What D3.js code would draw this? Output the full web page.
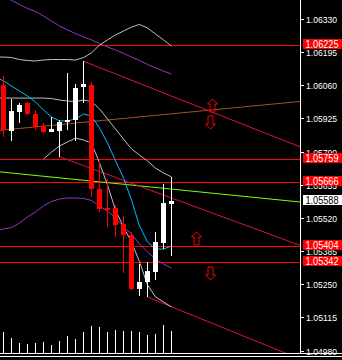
<!DOCTYPE html>
<html>
<head>
<meta charset="utf-8">
<script src="https://cdn.jsdelivr.net/npm/d3@7"></script>
<style>
  body { margin: 0; background: #000; }
  svg { display: block; }
</style>
</head>
<body>
<div id="chart"></div>
<script>
// candles
const opens  = [1.06061, 1.05875, 1.05953, 1.05987, 1.05942, 1.05896, 1.05871, 1.05874, 1.05911, 1.05919, 1.06050, 1.06061, 1.05638, 1.05560, 1.05562, 1.05495, 1.05450, 1.05231, 1.05259, 1.05300, 1.05418, 1.05575];
const highs  = [1.06099, 1.06003, 1.05989, 1.05992, 1.05959, 1.05906, 1.05932, 1.05919, 1.06111, 1.06065, 1.06159, 1.06073, 1.05752, 1.05678, 1.05573, 1.05528, 1.05463, 1.05332, 1.05340, 1.05463, 1.05658, 1.05687];
const lows   = [1.05849, 1.05834, 1.05905, 1.05939, 1.05878, 1.05866, 1.05870, 1.05769, 1.05878, 1.05834, 1.05987, 1.05605, 1.05544, 1.05483, 1.05441, 1.05296, 1.05226, 1.05202, 1.05198, 1.05267, 1.05393, 1.05365];
const closes = [1.05878, 1.05957, 1.05980, 1.05942, 1.05891, 1.05871, 1.05882, 1.05912, 1.05919, 1.06050, 1.06064, 1.05636, 1.05556, 1.05552, 1.05494, 1.05450, 1.05231, 1.05259, 1.05304, 1.05422, 1.05581, 1.05588];
const volumes = [627, 445, 294, 264, 294, 324, 233, 355, 506, 415, 627, 809, 779, 627, 688, 658, 658, 627, 536, 567, 839, 658];

// indicators start one bar before the first visible candle (null = not drawn)
const maFast   = [1.06094, 1.06078, 1.06057, 1.06037, 1.06016, 1.05992, 1.05959, 1.05931, 1.05915, 1.05915, 1.05923, 1.05943, 1.05935, 1.05886, 1.05825, 1.05752, 1.05683, 1.05593, 1.05487, 1.05422, 1.05393, 1.05393, 1.05406];
const bbUpper  = [1.06175, 1.06175, 1.06173, 1.06165, 1.06161, 1.06159, 1.06163, 1.06165, 1.06165, 1.06165, 1.06163, 1.06173, 1.06192, 1.06224, 1.06245, 1.06265, 1.06281, 1.06297, 1.06308, 1.06293, 1.06269, 1.06245, 1.06220];
const bbMiddle = [1.06008, 1.06008, 1.06008, 1.06008, 1.06008, 1.06008, 1.06008, 1.06006, 1.06000, 1.05996, 1.05994, 1.06000, 1.05994, 1.05964, 1.05923, 1.05882, 1.05841, 1.05801, 1.05776, 1.05752, 1.05723, 1.05703, 1.05687];
const bbLower  = [null, null, null, null, null, null, 1.05760, 1.05788, 1.05813, 1.05829, 1.05845, 1.05837, 1.05825, 1.05744, 1.05654, 1.05552, 1.05483, 1.05422, 1.05341, 1.05247, 1.05198, 1.05178, 1.05157];
const envUpper = [1.06432, 1.06420, 1.06406, 1.06389, 1.06373, 1.06361, 1.06342, 1.06322, 1.06302, 1.06285, 1.06271, 1.06257, 1.06245, 1.06230, 1.06216, 1.06204, 1.06190, 1.06175, 1.06161, 1.06145, 1.06131, 1.06118, 1.06106];
const envLower = [1.05467, 1.05475, 1.05481, 1.05499, 1.05524, 1.05544, 1.05569, 1.05587, 1.05597, 1.05601, 1.05601, 1.05599, 1.05591, 1.05569, 1.05548, 1.05520, 1.05483, 1.05455, 1.05414, 1.05381, 1.05353, 1.05332, 1.05316];

const levels = [1.06225, 1.05759, 1.05666, 1.05404, 1.05342];
const bid = 1.05588;
const tickValues = [1.06330, 1.06195, 1.06060, 1.05925, 1.05790, 1.05655, 1.05520, 1.05385, 1.05250, 1.05115, 1.04980];

// trend lines: [bar1, price1, bar2, price2, colour, extend left too]
const trends = [
  [0, 1.05878, 37, 1.05994, "#a0522d", true],
  [0, 1.05706, 37, 1.05585, "#7fff00", true],
  [10, 1.06158, 37, 1.05810, "#dc143c", false],
  [7, 1.05769, 37, 1.05409, "#dc143c", false],
  [18, 1.05198, 37, 1.04946, "#dc143c", false]
];
const arrows = [
  [26, 1.05978, "up"],
  [25.75, 1.05909, "down"],
  [24, 1.05440, "up"],
  [25.75, 1.05296, "down"]
];

const W = 342, H = 360;
const axisX = 300, bottomY = 353;

const svg = d3.select("#chart").append("svg")
  .attr("width", W)
  .attr("height", H)
  .style("background", "#000");

svg.append("clipPath").attr("id", "plot")
  .append("rect").attr("x", 0).attr("y", 0).attr("width", axisX).attr("height", bottomY);

const x = d3.scaleLinear().domain([0, 37]).range([3.5, 299.5]);
const y = d3.scaleLinear().domain([1.06330, 1.04980]).range([19, 350.5]);
const vy = d3.scaleLinear().domain([0, 1000]).range([bottomY, 320]);

const plot = svg.append("g").attr("clip-path", "url(#plot)");

// horizontal levels
plot.selectAll("line.level")
  .data(levels)
  .enter().append("line")
  .attr("class", "level")
  .attr("x1", 0).attr("x2", axisX)
  .attr("y1", d => Math.round(y(d)) + 0.5)
  .attr("y2", d => Math.round(y(d)) + 0.5)
  .attr("stroke", "#ff0000")
  .attr("stroke-width", 1);

// trend lines, run out to the plot edge
trends.forEach(t => {
  const slope = (t[3] - t[1]) / (t[2] - t[0]);
  const b0 = t[5] ? x.invert(0) : t[0];
  const b1 = x.invert(axisX);
  plot.append("line")
    .attr("x1", x(b0)).attr("y1", y(t[1] + slope * (b0 - t[0])))
    .attr("x2", x(b1)).attr("y2", y(t[1] + slope * (b1 - t[0])))
    .attr("stroke", t[4])
    .attr("stroke-width", 1);
});

// indicator lines
const indLine = d3.line()
  .defined(d => d != null)
  .x((d, i) => x(i - 1))
  .y(d => y(d));

[[envUpper, "#9932cc"], [envLower, "#9932cc"],
 [bbUpper, "#c0c0c0"], [bbMiddle, "#c0c0c0"], [bbLower, "#c0c0c0"],
 [maFast, "#00bfff"]].forEach(s => {
  plot.append("path")
    .attr("d", indLine(s[0]))
    .attr("fill", "none")
    .attr("stroke", s[1])
    .attr("stroke-width", 1);
});

// volumes
plot.selectAll("line.vol")
  .data(volumes)
  .enter().append("line")
  .attr("class", "vol")
  .attr("x1", (d, i) => x(i)).attr("x2", (d, i) => x(i))
  .attr("y1", vy(0)).attr("y2", d => Math.round(vy(d)))
  .attr("stroke", "#fff")
  .attr("stroke-width", 1);

// candles
const candles = plot.selectAll("g.candle")
  .data(opens.map((o, i) => ({ i, o, h: highs[i], l: lows[i], c: closes[i] })))
  .enter().append("g")
  .attr("class", "candle");

candles.append("line")
  .attr("x1", d => x(d.i)).attr("x2", d => x(d.i))
  .attr("y1", d => Math.round(y(d.h))).attr("y2", d => Math.round(y(d.l)))
  .attr("stroke", d => d.c >= d.o ? "#fff" : "#ff0000")
  .attr("stroke-width", 1);

candles.append("rect")
  .attr("x", d => x(d.i) - 2.5)
  .attr("width", 5)
  .attr("y", d => Math.round(y(Math.max(d.o, d.c))))
  .attr("height", d => Math.max(1, Math.round(Math.abs(y(d.o) - y(d.c)))))
  .attr("fill", d => d.c >= d.o ? "#fff" : "#ff0000");

// outlined arrows
const upPath = "M0,-6.5L5,-1.5L2.5,-1.5L2.5,6.5L-2.5,6.5L-2.5,-1.5L-5,-1.5Z";
plot.selectAll("path.arrow")
  .data(arrows)
  .enter().append("path")
  .attr("class", "arrow")
  .attr("d", upPath)
  .attr("transform", d => `translate(${Math.round(x(d[0])) + 0.5},${Math.round(y(d[1])) + 0.5})` + (d[2] === "down" ? " scale(1,-1)" : ""))
  .attr("fill", "none")
  .attr("stroke", "#ff0000")
  .attr("stroke-width", 1);

// price axis
svg.append("line")
  .attr("x1", axisX + 0.5).attr("x2", axisX + 0.5)
  .attr("y1", 0).attr("y2", bottomY)
  .attr("stroke", "#fff");

svg.selectAll("line.tick")
  .data(tickValues)
  .enter().append("line")
  .attr("x1", axisX + 1).attr("x2", axisX + 4)
  .attr("y1", d => Math.round(y(d)) + 0.5).attr("y2", d => Math.round(y(d)) + 0.5)
  .attr("stroke", "#fff");

svg.selectAll("text.tick")
  .data(tickValues)
  .enter().append("text")
  .attr("x", 306)
  .attr("y", d => Math.round(y(d)) + 3.5)
  .attr("fill", "#fff")
  .attr("font-family", "Liberation Sans, Arial, sans-serif")
  .attr("font-size", 9.5)
  .attr("textLength", 31)
  .attr("lengthAdjust", "spacingAndGlyphs")
  .text(d => d.toFixed(5));

// level labels and bid label drawn over the axis labels
const labels = levels.map(v => ({ v, bg: "#ff0000", fg: "#fff" }))
  .concat([{ v: bid, bg: "#fff", fg: "#000" }]);

const lab = svg.selectAll("g.lab")
  .data(labels)
  .enter().append("g")
  .attr("class", "lab");

lab.append("rect")
  .attr("x", 303).attr("width", 39)
  .attr("y", d => Math.round(y(d.v)) - 6)
  .attr("height", 10)
  .attr("fill", d => d.bg);

lab.append("text")
  .attr("x", 305.5)
  .attr("y", d => Math.round(y(d.v)) + 3)
  .attr("fill", d => d.fg)
  .attr("font-family", "Liberation Sans, Arial, sans-serif")
  .attr("font-size", 10)
  .attr("textLength", 33)
  .attr("lengthAdjust", "spacingAndGlyphs")
  .text(d => d.v.toFixed(5));

// bottom border
svg.append("line")
  .attr("x1", 0).attr("x2", W)
  .attr("y1", bottomY + 0.5).attr("y2", bottomY + 0.5)
  .attr("stroke", "#fff");
svg.append("line")
  .attr("x1", 0).attr("x2", W)
  .attr("y1", bottomY + 3.5).attr("y2", bottomY + 3.5)
  .attr("stroke", "#fff");
</script>
</body>
</html>
